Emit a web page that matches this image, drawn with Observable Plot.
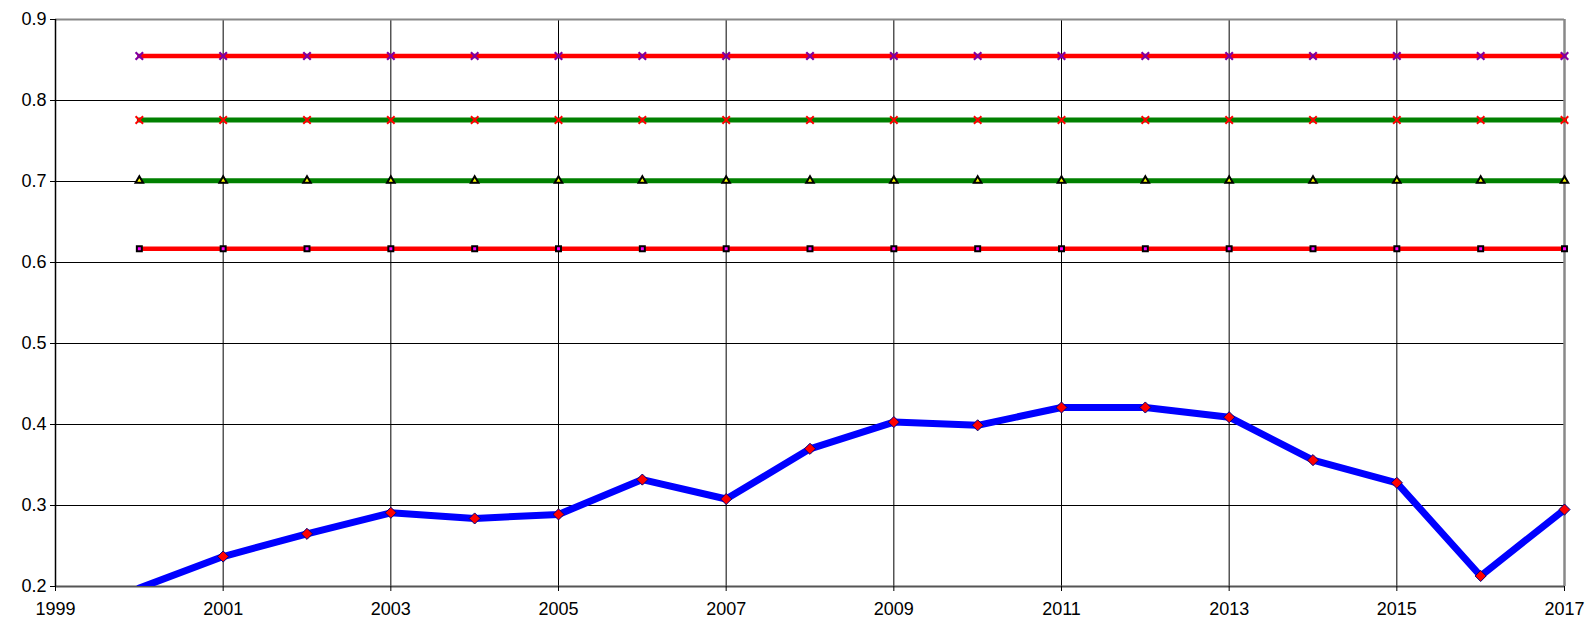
<!DOCTYPE html>
<html><head><meta charset="utf-8">
<script src="https://cdn.jsdelivr.net/npm/d3@7"></script>
<script src="https://cdn.jsdelivr.net/npm/@observablehq/plot@0.6"></script>
<style>html,body{margin:0;padding:0;background:#fff;} svg{display:block;} svg text{font-family:'Liberation Sans', Arial, sans-serif !important; font-size:18px !important; fill:#000;}</style>
</head><body><div id="chart"></div>
<script>
const years = [2000,2001,2002,2003,2004,2005,2006,2007,2008,2009,2010,2011,2012,2013,2014,2015,2016,2017];
const mainSeries = [0.198,0.237,0.265,0.291,0.284,0.289,0.332,0.308,0.370,0.403,0.399,0.421,0.421,0.409,0.356,0.328,0.213,0.295];
const levelA = [0.855,0.855,0.855,0.855,0.855,0.855,0.855,0.855,0.855,0.855,0.855,0.855,0.855,0.855,0.855,0.855,0.855,0.855];
const levelB = [0.776,0.776,0.776,0.776,0.776,0.776,0.776,0.776,0.776,0.776,0.776,0.776,0.776,0.776,0.776,0.776,0.776,0.776];
const levelC = [0.701,0.701,0.701,0.701,0.701,0.701,0.701,0.701,0.701,0.701,0.701,0.701,0.701,0.701,0.701,0.701,0.701,0.701];
const levelD = [0.617,0.617,0.617,0.617,0.617,0.617,0.617,0.617,0.617,0.617,0.617,0.617,0.617,0.617,0.617,0.617,0.617,0.617];
const xTicks = [1999,2001,2003,2005,2007,2009,2011,2013,2015,2017];
const yTicks = [0.2,0.3,0.4,0.5,0.6,0.7,0.8,0.9];

const toRows = vals => years.map((y, i) => ({year: y, value: vals[i]}));
const mainRows = toRows(mainSeries);
const rowsA = toRows(levelA), rowsB = toRows(levelB), rowsC = toRows(levelC), rowsD = toRows(levelD);
const xMin = xTicks[0], xMax = xTicks[xTicks.length - 1];
const yMin = yTicks[0], yMax = yTicks[yTicks.length - 1];
const font = "'Liberation Sans', Arial, sans-serif";

const chart = Plot.plot({
  width: 1587,
  height: 618,
  marginLeft: 55,
  marginRight: 23,
  marginTop: 19,
  marginBottom: 32,
  style: {fontFamily: font, fontSize: "18px", color: "#000", background: "#fff"},
  x: {domain: [xMin, xMax]},
  y: {domain: [yMin, yMax]},
  marks: [
    Plot.ruleX(xTicks.slice(1, -1), {stroke: "#000", strokeWidth: 1}),
    Plot.ruleY(yTicks.slice(1, -1), {stroke: "#000", strokeWidth: 1}),
    Plot.ruleY([yMax], {stroke: "#888", strokeWidth: 2}),
    Plot.ruleX([xMax], {stroke: "#888", strokeWidth: 2.5}),
    Plot.ruleY([yMin], {stroke: "#555", strokeWidth: 2}),
    Plot.ruleX([xMin], {stroke: "#000", strokeWidth: 1.5}),
    Plot.axisX({ticks: xTicks, tickSize: 5, tickPadding: 11, tickFormat: d => String(d), label: null, stroke: "#000", fontSize: 18, fill: "#000"}),
    Plot.axisY({ticks: yTicks, tickSize: 5, tickPadding: 4, tickFormat: d => d.toFixed(1), label: null, stroke: "#000", fontSize: 18, fill: "#000"}),
    Plot.line(mainRows, {x: "year", y: "value", stroke: "#0000ff", strokeWidth: 7, clip: true}),
    Plot.dot(mainRows.filter(d => d.value >= yMin), {x: "year", y: "value", symbol: "diamond2", r: 5, fill: "#ff0000", stroke: "#000080", strokeWidth: 1}),
    Plot.line(rowsA, {x: "year", y: "value", stroke: "#ff0000", strokeWidth: 4.5}),
    Plot.dot(rowsA, {x: "year", y: "value", symbol: "times", r: 3.5, stroke: "#8000a0", strokeWidth: 2.2}),
    Plot.line(rowsB, {x: "year", y: "value", stroke: "#008000", strokeWidth: 5}),
    Plot.dot(rowsB, {x: "year", y: "value", symbol: "times", r: 3.5, stroke: "#ff0000", strokeWidth: 2}),
    Plot.line(rowsC, {x: "year", y: "value", stroke: "#008000", strokeWidth: 5}),
    Plot.dot(rowsC, {x: "year", y: "value", symbol: "triangle", r: 2.8, fill: "#ffff00", stroke: "#000", strokeWidth: 2}),
    Plot.line(rowsD, {x: "year", y: "value", stroke: "#ff0000", strokeWidth: 4.5}),
    Plot.dot(rowsD, {x: "year", y: "value", symbol: "square", r: 2.8, fill: "#ff00ff", stroke: "#000", strokeWidth: 2})
  ]
});
document.getElementById("chart").appendChild(chart);
</script>
</body></html>
